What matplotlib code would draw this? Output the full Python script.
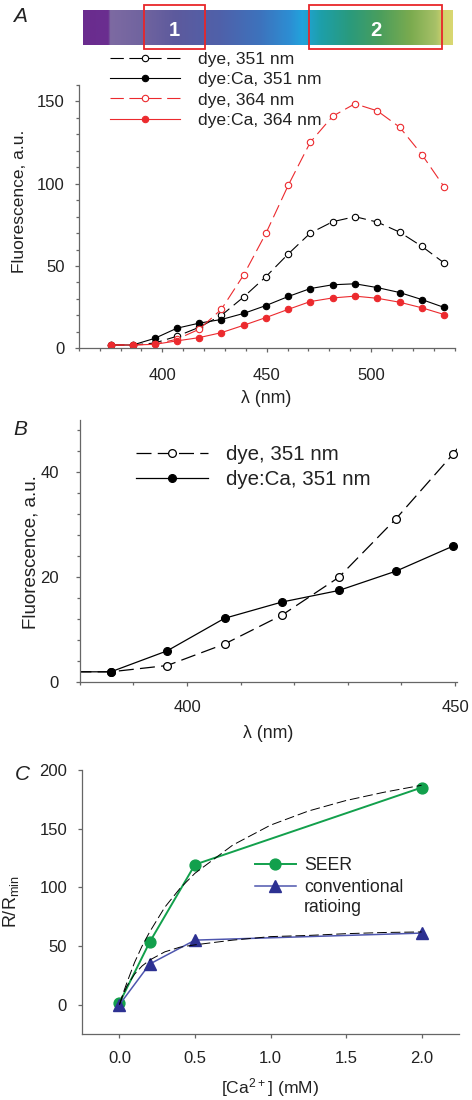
import numpy as np
import matplotlib
matplotlib.use("Agg")
import matplotlib.pyplot as plt
from matplotlib.patches import Rectangle
from matplotlib.lines import Line2D

plt.rcParams['font.family'] = ['Liberation Sans', 'DejaVu Sans']
plt.rcParams['mathtext.default'] = 'regular'

# ---------------- data ----------------
# Panel A / B: emission spectra
wavelength = [375.4, 385.8, 396.3, 407.0, 417.7, 428.3, 439.0, 449.7,
              460.4, 470.9, 481.6, 492.3, 503.0, 513.7, 524.4, 535.1]
dye_351 = [2, 2, 3.2, 7.3, 12.8, 20.0, 31.2, 43.6,
           57.4, 70.0, 76.9, 80.0, 76.7, 70.6, 61.9, 51.8]
dyeCa_351 = [2, 2, 6.0, 12.2, 15.3, 17.5, 21.2, 26.0,
             31.5, 36.3, 38.6, 39.2, 36.9, 33.9, 29.6, 24.8]
dye_364 = [2, 2, 2.5, 5.5, 11.6, 23.7, 44.6, 70.0,
           99.2, 125.2, 141.0, 148.6, 144.3, 134.4, 117.7, 98.0]
dyeCa_364 = [2, 2, 2.4, 4.5, 6.5, 9.5, 14.0, 18.7,
             23.7, 28.4, 30.6, 31.7, 30.4, 28.0, 24.6, 20.5]

# Spectrum bar (nm positions and colours) and the two emission windows
bar_nm = [362, 374, 375, 392, 406, 428, 447, 461, 467, 476, 490, 504, 519, 531, 535, 539]
bar_colors = ['#6a2c8e', '#6a2e90', '#7d6aa2', '#6f639f', '#5d5a9d', '#4f61aa',
              '#3d73bd', '#2d8ed3', '#22a3dc', '#1d9fa9', '#2a9a7c', '#4a9e5d',
              '#7bab4f', '#a8c168', '#d3d36c', '#d9d872']
window_lo = [391.2, 470.3]
window_hi = [420.5, 533.5]
window_labels = ['1', '2']

# Panel C: calibration
ca_mM = [0.0, 0.2, 0.5, 2.0]
seer = [1.5, 53.3, 119.4, 185.0]
conventional = [0.0, 34.6, 55.0, 61.0]
fit_ca = [0, 0.025, 0.05, 0.1, 0.15, 0.2, 0.3, 0.4, 0.5, 0.75, 1.0, 1.25, 1.5, 1.75, 2.0]
seer_fit = [0, 10, 19, 36, 50, 62, 83, 99, 112, 136, 153, 165, 174, 181, 187]
conv_fit = [0, 9, 16, 26, 33, 38, 45, 49, 51, 55, 58, 59, 60.5, 61.5, 62]

# ---------------- style ----------------
TXT = '#222222'
SPN = '#666666'
RED = '#ec2a2e'
GREEN = '#12a04c'
BLUE_M = '#2d3192'
BLUE_L = '#4e56ae'
W, H = 472, 1100

fig = plt.figure(figsize=(W / 100, H / 100), dpi=100)


def px_axes(left, top, right, bottom):
    return fig.add_axes([left / W, 1 - bottom / H, (right - left) / W, (bottom - top) / H])


def style_axes(ax, fs=12, xpad=10, ypad=7):
    for s in ['top', 'right']:
        ax.spines[s].set_visible(False)
    for s in ['left', 'bottom']:
        ax.spines[s].set_color(SPN)
        ax.spines[s].set_linewidth(0.9)
    ax.tick_params(which='both', direction='out', colors=SPN, labelcolor=TXT,
                   labelsize=fs, width=0.9)
    ax.tick_params(which='major', length=3)
    ax.tick_params(which='minor', length=2)
    ax.tick_params(axis='x', pad=xpad)
    ax.tick_params(axis='y', pad=ypad)


# ---------------- spectrum bar ----------------
axbar = px_axes(83, 10, 453, 45)
grid = np.linspace(bar_nm[0], bar_nm[-1], 600)
rgb = np.array([matplotlib.colors.to_rgb(c) for c in bar_colors])
img = np.stack([np.interp(grid, bar_nm, rgb[:, k]) for k in range(3)], axis=-1)
axbar.imshow(img[np.newaxis, :, :], extent=[bar_nm[0], bar_nm[-1], 0, 1], aspect='auto')
axbar.set_xlim(bar_nm[0], bar_nm[-1])
axbar.set_ylim(0, 1)
axbar.axis('off')
for lo, hi, lab in zip(window_lo, window_hi, window_labels):
    axbar.add_patch(Rectangle((lo, -0.115), hi - lo, 1.255, fill=False,
                              ec='#e8262a', lw=1.3, clip_on=False))
    axbar.text((lo + hi) / 2, 0.42, lab, color='white', fontsize=14.5,
               fontweight='bold', ha='center', va='center')

# ---------------- panel A ----------------
axA = px_axes(78.8, 85, 454.5, 348.3)
style_axes(axA, xpad=11)
kw = dict(lw=0.8, ms=4.6, mew=0.8)
axA.plot(wavelength, dye_351, color='black', ls=(0, (12, 5)), marker='o',
         mfc='white', mec='black', label='dye, 351 nm', **kw)
axA.plot(wavelength, dyeCa_351, color='black', ls='-', marker='o',
         mfc='black', mec='black', label='dye:Ca, 351 nm', **kw)
axA.plot(wavelength, dye_364, color=RED, ls=(0, (12, 5)), marker='o',
         mfc='white', mec=RED, label='dye, 364 nm', **kw)
axA.plot(wavelength, dyeCa_364, color=RED, ls='-', marker='o',
         mfc=RED, mec=RED, label='dye:Ca, 364 nm', **kw)
axA.set_xlim(360, 540)
axA.set_ylim(0, 160)
axA.set_xticks([400, 450, 500])
axA.set_xticks(np.arange(360, 541, 10), minor=True)
axA.set_yticks([0, 50, 100, 150])
axA.set_yticks(np.arange(0, 161, 10), minor=True)
axA.set_xlabel('λ (nm)', fontsize=12.8, color=TXT, labelpad=5)
axA.set_ylabel('Fluorescence, a.u.', fontsize=12.5, color=TXT)
axA.yaxis.set_label_coords(-0.138, 0.56)
axA.legend(loc='upper left', bbox_to_anchor=(110 / W, 1 - 52 / H),
           bbox_transform=fig.transFigure, frameon=False, fontsize=12.6,
           handlelength=4.0, handletextpad=1.0, borderpad=0, borderaxespad=0,
           labelspacing=0.28, labelcolor=TXT)
fig.text(13 / W, 1 - 22 / H, 'A', fontsize=15, style='italic', color=TXT,
         ha='left', va='baseline')

# ---------------- panel B ----------------
axB = px_axes(79.8, 420, 456.7, 682.3)
style_axes(axB, ypad=12)
xlo_B, xhi_B = 380, 450.3
kwB = dict(lw=0.9, ms=5.6, mew=0.9)
axB.plot(wavelength, dye_351, color='black', ls=(0, (12, 5)), lw=0.9)
axB.plot(wavelength, dyeCa_351, color='black', ls='-', lw=0.9)
inB = [i for i, x in enumerate(wavelength) if xlo_B <= x <= xhi_B]
axB.plot([wavelength[i] for i in inB], [dye_351[i] for i in inB], ls='none',
         marker='o', mfc='white', mec='black', ms=5.6, mew=0.9, clip_on=False, zorder=4)
axB.plot([wavelength[i] for i in inB], [dyeCa_351[i] for i in inB], ls='none',
         marker='o', mfc='black', mec='black', ms=5.6, mew=0.9, clip_on=False, zorder=4)
axB.set_xlim(xlo_B, xhi_B)
axB.set_ylim(0, 50)
axB.set_xticks([400, 450])
axB.set_xticks(np.arange(380, 451, 10), minor=True)
axB.set_yticks([0, 20, 40])
axB.set_yticks(np.arange(0, 51, 4), minor=True)
axB.set_xlabel('λ (nm)', fontsize=12.8, color=TXT, labelpad=7)
axB.set_ylabel('Fluorescence, a.u.', fontsize=13.5, color=TXT)
axB.yaxis.set_label_coords(-0.108, 0.498)
hB = [Line2D([], [], color='black', ls=(0, (12, 5)), marker='o', mfc='white', mec='black', **kwB),
      Line2D([], [], color='black', ls='-', marker='o', mfc='black', mec='black', **kwB)]
axB.legend(hB, ['dye, 351 nm', 'dye:Ca, 351 nm'], loc='upper left',
           bbox_to_anchor=(136 / W, 1 - 445 / H),
           bbox_transform=fig.transFigure, frameon=False, fontsize=14.8,
           handlelength=3.5, handletextpad=0.9, borderpad=0, borderaxespad=0,
           labelspacing=0.3, labelcolor=TXT)
fig.text(13 / W, 1 - 435 / H, 'B', fontsize=15, style='italic', color=TXT,
         ha='left', va='baseline')

# ---------------- panel C ----------------
axC = px_axes(81.7, 770, 459.3, 1034)
style_axes(axC, xpad=9.5, ypad=7.5)
axC.plot(fit_ca, seer_fit, color='black', ls=(0, (10, 4)), lw=0.7, zorder=3)
axC.plot(fit_ca, conv_fit, color='black', ls=(0, (10, 4)), lw=0.7, zorder=3)
axC.plot(ca_mM, seer, color=GREEN, lw=1.4, marker='o', ms=7.8, mfc=GREEN,
         mec=GREEN, label='SEER', zorder=2)
axC.plot(ca_mM, conventional, color=BLUE_L, lw=1.1, marker='^', ms=8,
         mfc=BLUE_M, mec=BLUE_M, label='conventional', zorder=2)
axC.set_xlim(-0.25, 2.25)
axC.set_ylim(-25, 200)
axC.set_xticks([0, 0.5, 1.0, 1.5, 2.0])
axC.set_xticklabels(['0.0', '0.5', '1.0', '1.5', '2.0'])
axC.set_yticks([0, 50, 100, 150, 200])
axC.set_xlabel('[Ca$^{2+}$] (mM)', fontsize=12.6, color=TXT, labelpad=7)
axC.set_ylabel('R/R$_{min}$', fontsize=13, color=TXT)
axC.yaxis.set_label_coords(-0.162, 0.501)
axC.legend(loc='upper left', bbox_to_anchor=(255 / W, 1 - 857 / H),
           bbox_transform=fig.transFigure, frameon=False, fontsize=12.7,
           handlelength=2.3, handletextpad=0.5, borderpad=0, borderaxespad=0,
           labelspacing=0.28, labelcolor=TXT)
fig.text(304 / W, 1 - 908 / H, 'ratioing', fontsize=12.7, color=TXT,
         ha='left', va='center')
fig.text(15 / W, 1 - 780 / H, 'C', fontsize=15, style='italic', color=TXT,
         ha='left', va='baseline')

fig.savefig('out.png', dpi=100)
